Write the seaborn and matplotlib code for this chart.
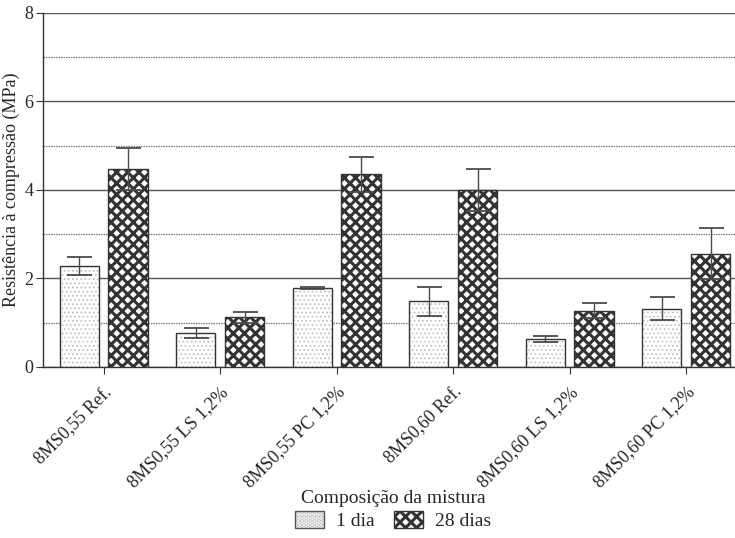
import numpy as np
import pandas as pd
import seaborn as sns
import matplotlib
matplotlib.use("Agg")
import matplotlib.pyplot as plt
from matplotlib.ticker import MultipleLocator
from matplotlib.patches import Patch

# dados
composicoes = ["8MS0,55 Ref.", "8MS0,55 LS 1,2%", "8MS0,55 PC 1,2%",
               "8MS0,60 Ref.", "8MS0,60 LS 1,2%", "8MS0,60 PC 1,2%"]
idades = ["1 dia", "28 dias"]
res_1dia = [2.28, 0.76, 1.79, 1.48, 0.63, 1.32]
res_28dias = [4.47, 1.12, 4.35, 4.00, 1.27, 2.56]
dp_1dia = [0.21, 0.11, 0.02, 0.33, 0.06, 0.25]
dp_28dias = [0.47, 0.12, 0.39, 0.47, 0.17, 0.57]

df = pd.DataFrame({
    "Composição": composicoes * 2,
    "Idade": [idades[0]] * 6 + [idades[1]] * 6,
    "Resistência": res_1dia + res_28dias,
    "dp": dp_1dia + dp_28dias,
})

sns.set_style("white")
plt.rcParams["font.family"] = ["Liberation Serif", "DejaVu Serif"]
plt.rcParams["hatch.linewidth"] = 2.2
plt.rcParams["hatch.color"] = "#111111"

fig = plt.figure(figsize=(7.35, 5.38), dpi=100)
ax = fig.add_axes([0.0585, 0.318, 0.9415, 0.658])

sns.barplot(data=df, x="Composição", y="Resistência", hue="Idade",
            hue_order=idades, width=0.84, gap=0.2, errorbar=None,
            palette=["white", "white"], edgecolor="#333333", linewidth=1.0,
            ax=ax, legend=False, zorder=3)

# hachuras e barras de erro
hatches = {"1 dia": "....", "28 dias": "xxx"}
for cont, idade in zip(ax.containers, idades):
    sub = df[df["Idade"] == idade]
    for bar, dp in zip(cont, sub["dp"]):
        bar.set_hatch(hatches[idade])
        if idade == "1 dia":
            bar._hatch_color = matplotlib.colors.to_rgba("#bdbdbd")
            if hasattr(bar, "set_hatch_linewidth"):
                bar.set_hatch_linewidth(0.7)
        x = bar.get_x() + bar.get_width() / 2
        ax.errorbar(x, bar.get_height(), yerr=dp, color="#4a4a4a",
                    capsize=9, elinewidth=1.0, capthick=1.3, zorder=4)

ax.set_ylim(0, 8)
ax.set_xlim(-0.52, 5.42)
ax.yaxis.set_major_locator(MultipleLocator(2))
ax.yaxis.set_minor_locator(MultipleLocator(1))
ax.grid(which="major", axis="y", color="#555555", linewidth=1.0, zorder=0)
ax.grid(which="minor", axis="y", color="#777777", linewidth=0.9,
        linestyle=(0, (1.2, 0.8)), zorder=0)
ax.set_axisbelow(True)
sns.despine(ax=ax, top=True, right=True)
for s in ["left", "bottom"]:
    ax.spines[s].set_color("#333333")
    ax.spines[s].set_linewidth(1.0)

ax.tick_params(axis="both", which="major", direction="out", length=5,
               color="#333333", bottom=True, left=True)
ax.tick_params(axis="x", pad=7)
ax.tick_params(axis="y", pad=2)
ax.tick_params(axis="y", which="minor", length=0)
ax.set_xticks(range(len(composicoes)))
ax.set_xticklabels(composicoes, rotation=45, ha="right",
                   rotation_mode="anchor", fontsize=13)
ax.set_yticks([0, 2, 4, 6, 8])
ax.set_yticklabels(["0", "2", "4", "6", "8"], fontsize=13)

ax.set_ylabel("Resistência à compressão (MPa)", fontsize=13, labelpad=3)
ax.set_xlabel("")
fig.text(0.535, 0.074, "Composição da mistura", ha="center", va="center",
         fontsize=14)

handles = [Patch(facecolor="white", edgecolor="#555555", hatch="....", label="1 dia"),
           Patch(facecolor="white", edgecolor="#333333", hatch="xxx", label="28 dias")]
leg = fig.legend(handles=handles, loc="center", bbox_to_anchor=(0.535, 0.033),
                 ncol=2, frameon=False, fontsize=14, handlelength=1.5,
                 handleheight=1.0, columnspacing=1.0, handletextpad=0.6)
leg.legend_handles[0]._hatch_color = matplotlib.colors.to_rgba("#bdbdbd")

fig.savefig("out.png", dpi=100)
